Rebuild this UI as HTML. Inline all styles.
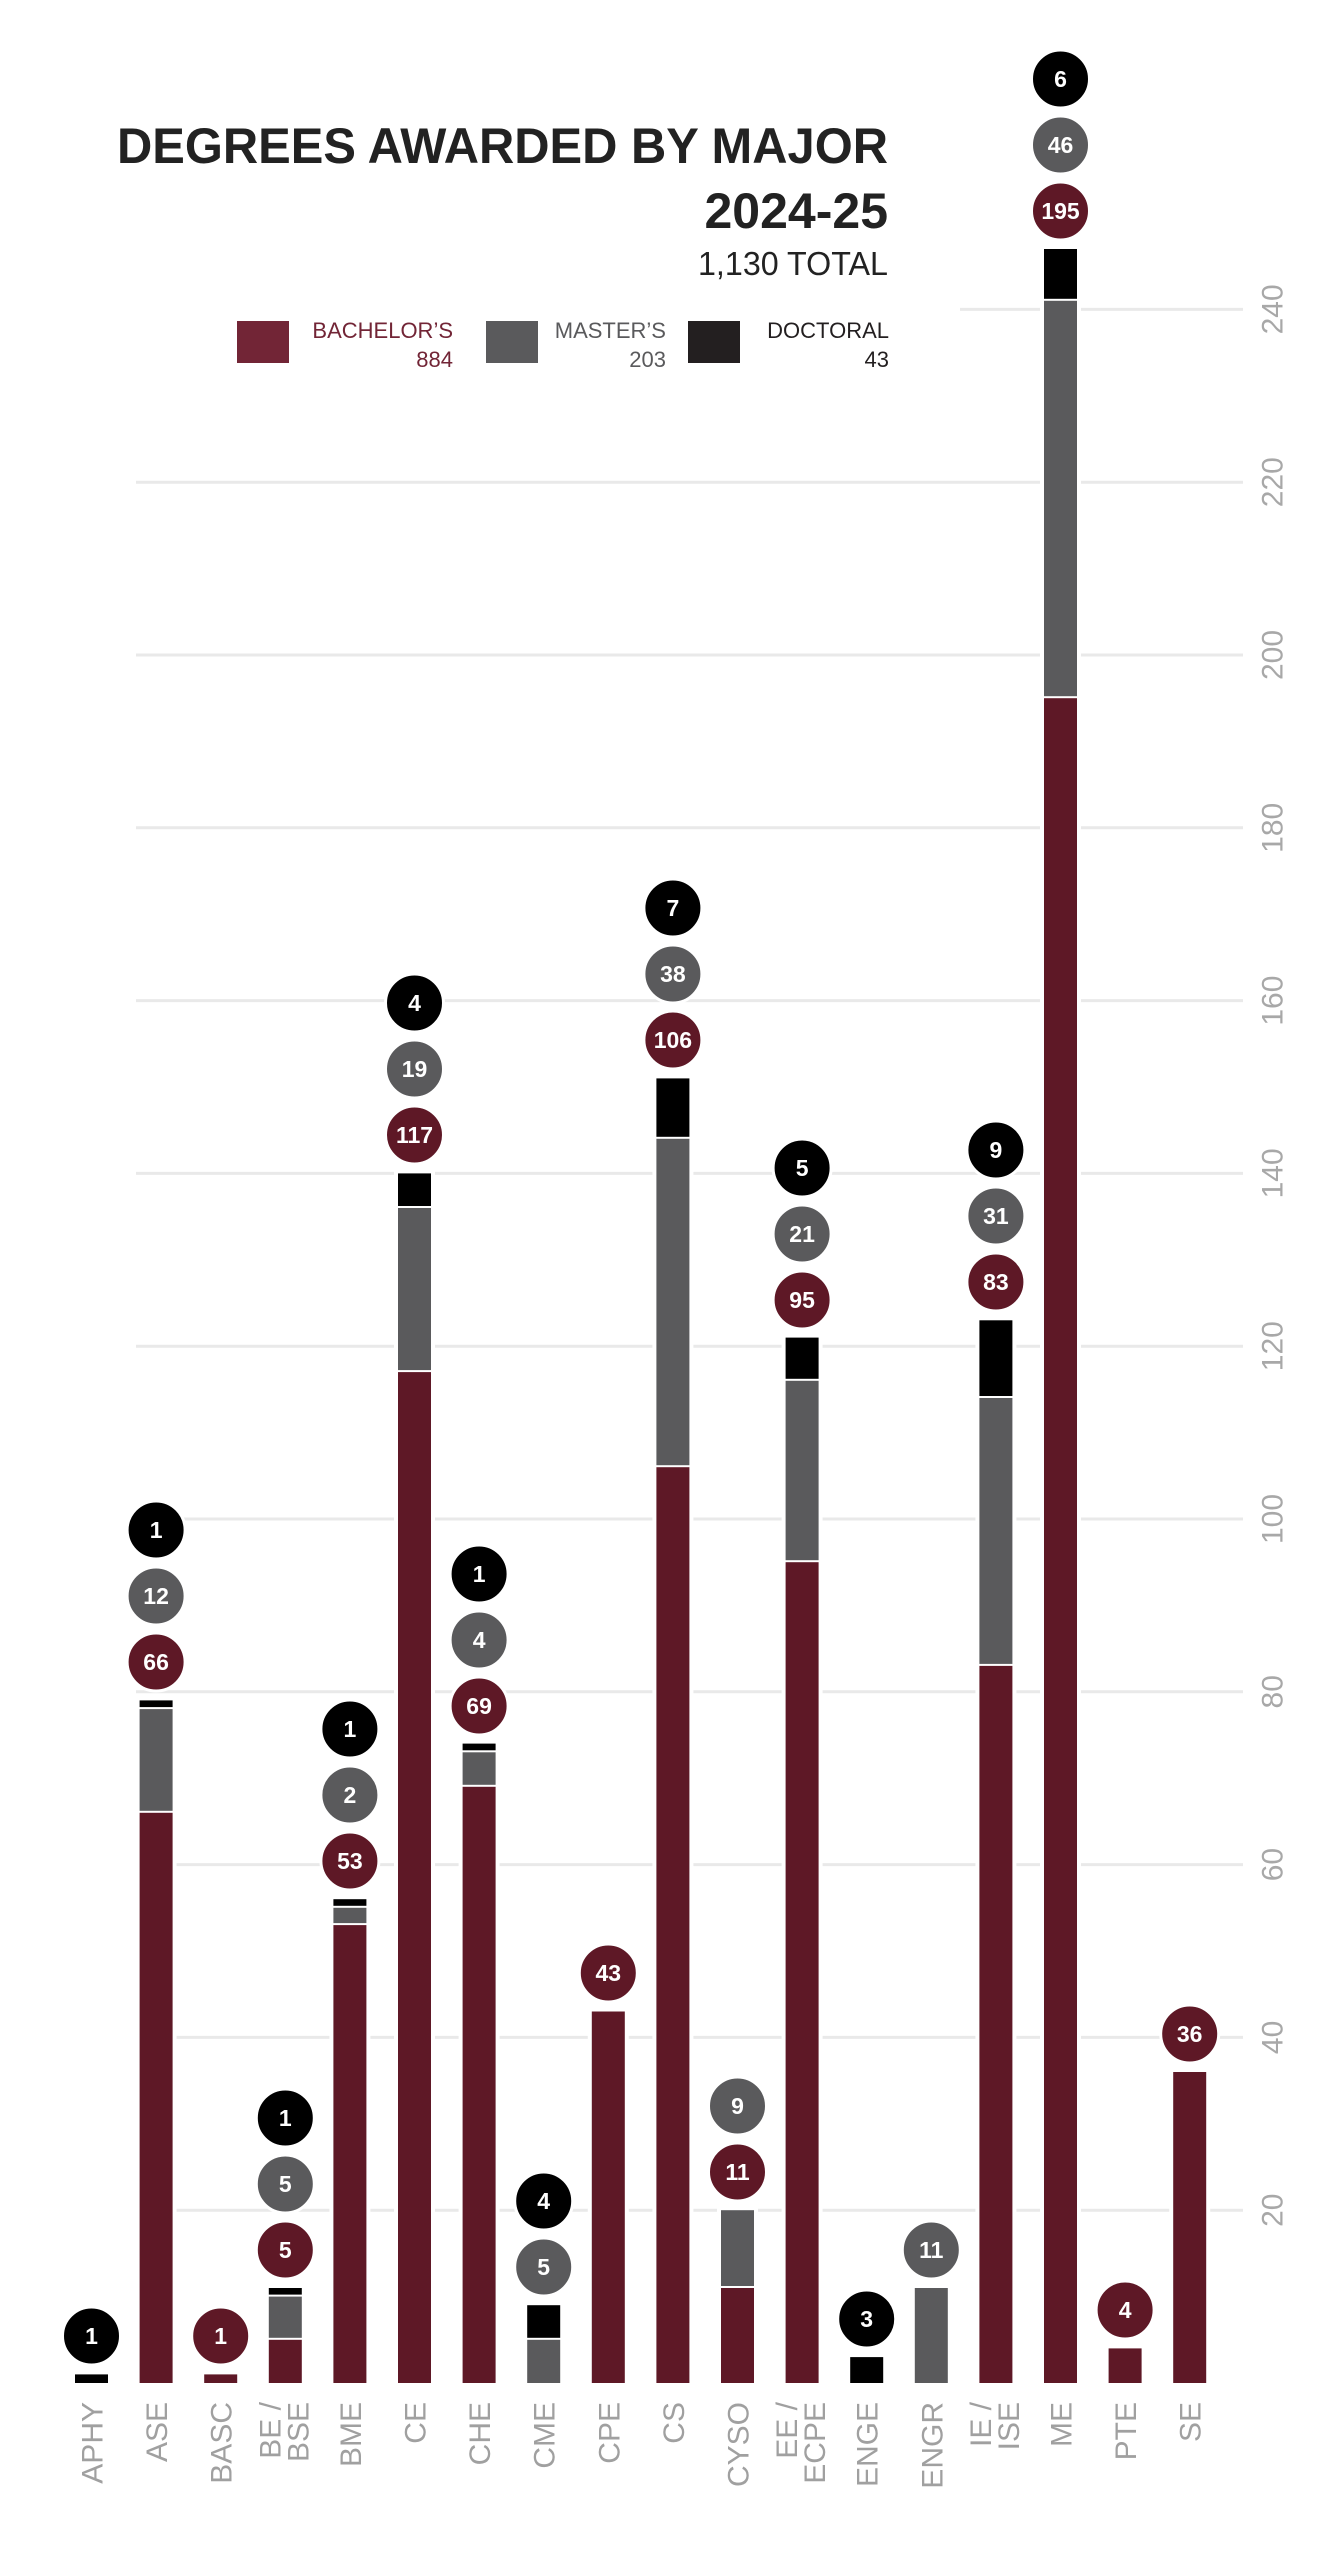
<!DOCTYPE html>
<html><head><meta charset="utf-8"><style>
html,body{margin:0;padding:0;background:#fff;}
svg{display:block;}
text{font-family:"Liberation Sans",sans-serif;}
.bl{font-size:23px;font-weight:bold;fill:#fff;text-anchor:middle;dominant-baseline:central;}
.xl{font-size:30px;fill:#a0a0a0;text-anchor:end;}
.yl{font-size:30px;fill:#a8a8a8;text-anchor:middle;dominant-baseline:central;}
</style></head><body>
<svg width="1335" height="2560" viewBox="0 0 1335 2560" xmlns="http://www.w3.org/2000/svg">
<rect width="1335" height="2560" fill="#fff"/>
<g stroke="#e9e9e9" stroke-width="3">
<line x1="136" x2="1243" y1="2210.2" y2="2210.2"/>
<line x1="136" x2="1243" y1="2037.4" y2="2037.4"/>
<line x1="136" x2="1243" y1="1864.6" y2="1864.6"/>
<line x1="136" x2="1243" y1="1691.8" y2="1691.8"/>
<line x1="136" x2="1243" y1="1519" y2="1519"/>
<line x1="136" x2="1243" y1="1346.2" y2="1346.2"/>
<line x1="136" x2="1243" y1="1173.4" y2="1173.4"/>
<line x1="136" x2="1243" y1="1000.6" y2="1000.6"/>
<line x1="136" x2="1243" y1="827.8" y2="827.8"/>
<line x1="136" x2="1243" y1="655" y2="655"/>
<line x1="136" x2="1243" y1="482.2" y2="482.2"/>
<line x1="960" x2="1243" y1="309.4" y2="309.4"/>
</g>
<g>
<text class="yl" transform="translate(1273,2210.2) rotate(-90)">20</text>
<text class="yl" transform="translate(1273,2037.4) rotate(-90)">40</text>
<text class="yl" transform="translate(1273,1864.6) rotate(-90)">60</text>
<text class="yl" transform="translate(1273,1691.8) rotate(-90)">80</text>
<text class="yl" transform="translate(1273,1519) rotate(-90)">100</text>
<text class="yl" transform="translate(1273,1346.2) rotate(-90)">120</text>
<text class="yl" transform="translate(1273,1173.4) rotate(-90)">140</text>
<text class="yl" transform="translate(1273,1000.6) rotate(-90)">160</text>
<text class="yl" transform="translate(1273,827.8) rotate(-90)">180</text>
<text class="yl" transform="translate(1273,655) rotate(-90)">200</text>
<text class="yl" transform="translate(1273,482.2) rotate(-90)">220</text>
<text class="yl" transform="translate(1273,309.4) rotate(-90)">240</text>
</g>
<!-- title -->
<text x="888" y="163" text-anchor="end" font-size="50" font-weight="bold" fill="#222" textLength="771" lengthAdjust="spacingAndGlyphs">DEGREES AWARDED BY MAJOR</text>
<text x="888" y="228" text-anchor="end" font-size="50" font-weight="bold" fill="#222">2024-25</text>
<text x="888" y="275" text-anchor="end" font-size="33" fill="#222" textLength="190" lengthAdjust="spacingAndGlyphs">1,130 TOTAL</text>
<!-- legend -->
<rect x="237" y="321" width="52" height="42" fill="#722536"/>
<text x="453" y="338" text-anchor="end" font-size="22" fill="#722536">BACHELOR’S</text>
<text x="453" y="367" text-anchor="end" font-size="22" fill="#722536">884</text>
<rect x="486" y="321" width="52" height="42" fill="#5a5a5c"/>
<text x="666" y="338" text-anchor="end" font-size="22" fill="#5a5a5c">MASTER’S</text>
<text x="666" y="367" text-anchor="end" font-size="22" fill="#5a5a5c">203</text>
<rect x="688" y="321" width="52" height="42" fill="#231f20"/>
<text x="889" y="338" text-anchor="end" font-size="22" fill="#231f20">DOCTORAL</text>
<text x="889" y="367" text-anchor="end" font-size="22" fill="#231f20">43</text>
<!-- bar white backgrounds -->
<g fill="#fff">
<rect x="71" y="2371" width="41" height="12"/>
<rect x="135.6" y="1697" width="41" height="686"/>
<rect x="200.2" y="2371" width="41" height="12"/>
<rect x="264.8" y="2285" width="41" height="98"/>
<rect x="329.4" y="1896" width="41" height="487"/>
<rect x="394" y="1170" width="41" height="1213"/>
<rect x="458.6" y="1740" width="41" height="643"/>
<rect x="523.2" y="2302" width="41" height="81"/>
<rect x="587.8" y="2008" width="41" height="375"/>
<rect x="652.4" y="1075" width="41" height="1308"/>
<rect x="717" y="2207" width="41" height="176"/>
<rect x="781.6" y="1334" width="41" height="1049"/>
<rect x="846.2" y="2354" width="41" height="29"/>
<rect x="910.8" y="2285" width="41" height="98"/>
<rect x="975.4" y="1317" width="41" height="1066"/>
<rect x="1040" y="246" width="41" height="2137"/>
<rect x="1104.6" y="2345" width="41" height="38"/>
<rect x="1169.2" y="2069" width="41" height="314"/>
</g>
<!-- bachelor -->
<g fill="#5e1826">
<rect x="139.6" y="1812.8" width="33" height="570.2"/>
<rect x="204.2" y="2374.4" width="33" height="8.6"/>
<rect x="268.8" y="2339.8" width="33" height="43.2"/>
<rect x="333.4" y="1925.1" width="33" height="457.9"/>
<rect x="398" y="1372.1" width="33" height="1010.9"/>
<rect x="462.6" y="1786.8" width="33" height="596.2"/>
<rect x="591.8" y="2011.5" width="33" height="371.5"/>
<rect x="656.4" y="1467.2" width="33" height="915.8"/>
<rect x="721" y="2288" width="33" height="95"/>
<rect x="785.6" y="1562.2" width="33" height="820.8"/>
<rect x="979.4" y="1665.9" width="33" height="717.1"/>
<rect x="1044" y="698.2" width="33" height="1684.8"/>
<rect x="1108.6" y="2348.4" width="33" height="34.6"/>
<rect x="1173.2" y="2072" width="33" height="311"/>
</g>
<!-- master -->
<g fill="#5a5a5c">
<rect x="139.6" y="1709.1" width="33" height="101.7"/>
<rect x="268.8" y="2296.6" width="33" height="41.2"/>
<rect x="333.4" y="1907.8" width="33" height="15.3"/>
<rect x="398" y="1208" width="33" height="162.1"/>
<rect x="462.6" y="1752.3" width="33" height="32.5"/>
<rect x="527.2" y="2339.8" width="33" height="43.2"/>
<rect x="656.4" y="1138.8" width="33" height="326.4"/>
<rect x="721" y="2210.2" width="33" height="75.8"/>
<rect x="785.6" y="1380.8" width="33" height="179.4"/>
<rect x="914.8" y="2288" width="33" height="95"/>
<rect x="979.4" y="1398" width="33" height="265.9"/>
<rect x="1044" y="300.8" width="33" height="395.4"/>
</g>
<!-- doctoral -->
<g fill="#000">
<rect x="75" y="2374.4" width="33" height="8.6"/>
<rect x="139.6" y="1700.4" width="33" height="6.7"/>
<rect x="268.8" y="2288" width="33" height="6.6"/>
<rect x="333.4" y="1899.2" width="33" height="6.6"/>
<rect x="398" y="1173.4" width="33" height="32.6"/>
<rect x="462.6" y="1743.6" width="33" height="6.7"/>
<rect x="527.2" y="2305.2" width="33" height="32.6"/>
<rect x="656.4" y="1078.4" width="33" height="58.4"/>
<rect x="785.6" y="1337.6" width="33" height="41.2"/>
<rect x="850.2" y="2357.1" width="33" height="25.9"/>
<rect x="979.4" y="1320.3" width="33" height="75.7"/>
<rect x="1044" y="249" width="33" height="49.8"/>
</g>
<!-- bubbles -->
<g stroke="#fff" stroke-width="3">
<circle cx="91.5" cy="2336" r="29" fill="#000"/>
<circle cx="156.1" cy="1662" r="29" fill="#5e1826"/><circle cx="156.1" cy="1596" r="29" fill="#5a5a5c"/><circle cx="156.1" cy="1530" r="29" fill="#000"/>
<circle cx="220.7" cy="2336" r="29" fill="#5e1826"/>
<circle cx="285.3" cy="2250" r="29" fill="#5e1826"/><circle cx="285.3" cy="2184" r="29" fill="#5a5a5c"/><circle cx="285.3" cy="2118" r="29" fill="#000"/>
<circle cx="349.9" cy="1861" r="29" fill="#5e1826"/><circle cx="349.9" cy="1795" r="29" fill="#5a5a5c"/><circle cx="349.9" cy="1729" r="29" fill="#000"/>
<circle cx="414.5" cy="1135" r="29" fill="#5e1826"/><circle cx="414.5" cy="1069" r="29" fill="#5a5a5c"/><circle cx="414.5" cy="1003" r="29" fill="#000"/>
<circle cx="479.1" cy="1706" r="29" fill="#5e1826"/><circle cx="479.1" cy="1640" r="29" fill="#5a5a5c"/><circle cx="479.1" cy="1574" r="29" fill="#000"/>
<circle cx="543.7" cy="2267" r="29" fill="#5a5a5c"/><circle cx="543.7" cy="2201" r="29" fill="#000"/>
<circle cx="608.3" cy="1973" r="29" fill="#5e1826"/>
<circle cx="672.9" cy="1040" r="29" fill="#5e1826"/><circle cx="672.9" cy="974" r="29" fill="#5a5a5c"/><circle cx="672.9" cy="908" r="29" fill="#000"/>
<circle cx="737.5" cy="2172" r="29" fill="#5e1826"/><circle cx="737.5" cy="2106" r="29" fill="#5a5a5c"/>
<circle cx="802.1" cy="1300" r="29" fill="#5e1826"/><circle cx="802.1" cy="1234" r="29" fill="#5a5a5c"/><circle cx="802.1" cy="1168" r="29" fill="#000"/>
<circle cx="866.7" cy="2319" r="29" fill="#000"/>
<circle cx="931.3" cy="2250" r="29" fill="#5a5a5c"/>
<circle cx="995.9" cy="1282" r="29" fill="#5e1826"/><circle cx="995.9" cy="1216" r="29" fill="#5a5a5c"/><circle cx="995.9" cy="1150" r="29" fill="#000"/>
<circle cx="1060.5" cy="211" r="29" fill="#5e1826"/><circle cx="1060.5" cy="145" r="29" fill="#5a5a5c"/><circle cx="1060.5" cy="79" r="29" fill="#000"/>
<circle cx="1125.1" cy="2310" r="29" fill="#5e1826"/>
<circle cx="1189.7" cy="2034" r="29" fill="#5e1826"/>
</g>
<g>
<text class="bl" x="91.5" y="2336">1</text>
<text class="bl" x="156.1" y="1662">66</text><text class="bl" x="156.1" y="1596">12</text><text class="bl" x="156.1" y="1530">1</text>
<text class="bl" x="220.7" y="2336">1</text>
<text class="bl" x="285.3" y="2250">5</text><text class="bl" x="285.3" y="2184">5</text><text class="bl" x="285.3" y="2118">1</text>
<text class="bl" x="349.9" y="1861">53</text><text class="bl" x="349.9" y="1795">2</text><text class="bl" x="349.9" y="1729">1</text>
<text class="bl" x="414.5" y="1135">117</text><text class="bl" x="414.5" y="1069">19</text><text class="bl" x="414.5" y="1003">4</text>
<text class="bl" x="479.1" y="1706">69</text><text class="bl" x="479.1" y="1640">4</text><text class="bl" x="479.1" y="1574">1</text>
<text class="bl" x="543.7" y="2267">5</text><text class="bl" x="543.7" y="2201">4</text>
<text class="bl" x="608.3" y="1973">43</text>
<text class="bl" x="672.9" y="1040">106</text><text class="bl" x="672.9" y="974">38</text><text class="bl" x="672.9" y="908">7</text>
<text class="bl" x="737.5" y="2172">11</text><text class="bl" x="737.5" y="2106">9</text>
<text class="bl" x="802.1" y="1300">95</text><text class="bl" x="802.1" y="1234">21</text><text class="bl" x="802.1" y="1168">5</text>
<text class="bl" x="866.7" y="2319">3</text>
<text class="bl" x="931.3" y="2250">11</text>
<text class="bl" x="995.9" y="1282">83</text><text class="bl" x="995.9" y="1216">31</text><text class="bl" x="995.9" y="1150">9</text>
<text class="bl" x="1060.5" y="211">195</text><text class="bl" x="1060.5" y="145">46</text><text class="bl" x="1060.5" y="79">6</text>
<text class="bl" x="1125.1" y="2310">4</text>
<text class="bl" x="1189.7" y="2034">36</text>
</g>
<!-- x labels -->
<g>
<text class="xl" transform="translate(102.5,2402) rotate(-90)">APHY</text>
<text class="xl" transform="translate(167.1,2402) rotate(-90)">ASE</text>
<text class="xl" transform="translate(231.7,2402) rotate(-90)">BASC</text>
<text class="xl" transform="translate(280.3,2402) rotate(-90)">BE /</text>
<text class="xl" transform="translate(308.3,2402) rotate(-90)">BSE</text>
<text class="xl" transform="translate(360.9,2402) rotate(-90)">BME</text>
<text class="xl" transform="translate(425.5,2402) rotate(-90)">CE</text>
<text class="xl" transform="translate(490.1,2402) rotate(-90)">CHE</text>
<text class="xl" transform="translate(554.7,2402) rotate(-90)">CME</text>
<text class="xl" transform="translate(619.3,2402) rotate(-90)">CPE</text>
<text class="xl" transform="translate(683.9,2402) rotate(-90)">CS</text>
<text class="xl" transform="translate(748.5,2402) rotate(-90)">CYSO</text>
<text class="xl" transform="translate(797.1,2402) rotate(-90)">EE /</text>
<text class="xl" transform="translate(825.1,2402) rotate(-90)">ECPE</text>
<text class="xl" transform="translate(877.7,2402) rotate(-90)">ENGE</text>
<text class="xl" transform="translate(942.3,2402) rotate(-90)">ENGR</text>
<text class="xl" transform="translate(990.9,2402) rotate(-90)">IE /</text>
<text class="xl" transform="translate(1018.9,2402) rotate(-90)">ISE</text>
<text class="xl" transform="translate(1071.5,2402) rotate(-90)">ME</text>
<text class="xl" transform="translate(1136.1,2402) rotate(-90)">PTE</text>
<text class="xl" transform="translate(1200.7,2402) rotate(-90)">SE</text>
</g>
</svg>
</body></html>
